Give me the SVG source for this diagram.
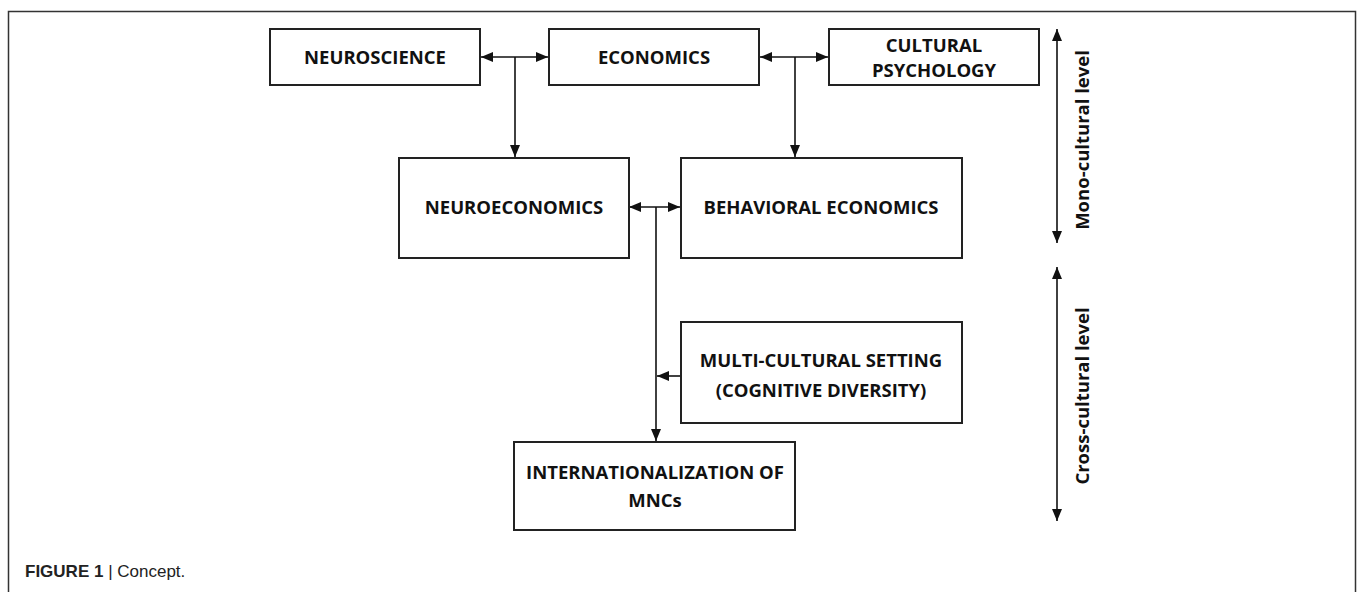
<svg xmlns="http://www.w3.org/2000/svg" width="1357" height="592" viewBox="0 0 1357 592">
<style>
.box{fill:#fff;stroke:#222;stroke-width:2}
.lbl{font-family:"Open Sans","Noto Sans",sans-serif;font-weight:bold;font-size:18.5px;fill:#111;text-anchor:middle}
.side{font-family:"Open Sans","Noto Sans",sans-serif;font-weight:bold;font-size:18.5px;fill:#111;text-anchor:middle}
.con{fill:none;stroke:#111;stroke-width:1.6}
.frame{fill:none;stroke:#333;stroke-width:1.5}
.cap{font-family:"Liberation Sans",Arial,sans-serif;font-size:17px;fill:#222}
</style>
<defs>
<marker id="ah" markerUnits="userSpaceOnUse" viewBox="0 0 12 10" refX="12" refY="5" markerWidth="12" markerHeight="10" orient="auto-start-reverse">
<path d="M0,0 L12,5 L0,10 z" fill="#111"/>
</marker>
</defs>
<rect class="frame" x="8.5" y="11.5" width="1347" height="600"/>
<g id="connectors">
<line class="con" x1="481" y1="57" x2="548" y2="57" marker-start="url(#ah)" marker-end="url(#ah)"/>
<line class="con" x1="515" y1="57" x2="515" y2="157" marker-end="url(#ah)"/>
<line class="con" x1="760" y1="57" x2="828" y2="57" marker-start="url(#ah)" marker-end="url(#ah)"/>
<line class="con" x1="795" y1="57" x2="795" y2="157" marker-end="url(#ah)"/>
<line class="con" x1="629" y1="207" x2="680" y2="207" marker-start="url(#ah)" marker-end="url(#ah)"/>
<line class="con" x1="656" y1="207" x2="656" y2="441" marker-end="url(#ah)"/>
<line class="con" x1="680" y1="376" x2="657" y2="376" marker-end="url(#ah)"/>
<line class="con" x1="1057" y1="29" x2="1057" y2="243" marker-start="url(#ah)" marker-end="url(#ah)"/>
<line class="con" x1="1057" y1="267" x2="1057" y2="521" marker-start="url(#ah)" marker-end="url(#ah)"/>
</g>
<g id="neuroscience">
<rect class="box" x="270" y="29" width="210" height="56"/>
<text class="lbl" x="375" y="64">NEUROSCIENCE</text>
</g>
<g id="economics">
<rect class="box" x="549" y="29" width="210" height="56"/>
<text class="lbl" x="654" y="64">ECONOMICS</text>
</g>
<g id="cultural-psychology">
<rect class="box" x="829" y="29" width="210" height="56"/>
<text class="lbl" x="934" y="52">CULTURAL</text>
<text class="lbl" x="934" y="77">PSYCHOLOGY</text>
</g>
<g id="neuroeconomics">
<rect class="box" x="399" y="158" width="230" height="100"/>
<text class="lbl" x="514" y="214">NEUROECONOMICS</text>
</g>
<g id="behavioral-economics">
<rect class="box" x="681" y="158" width="281" height="100"/>
<text class="lbl" x="821" y="214">BEHAVIORAL ECONOMICS</text>
</g>
<g id="multi-cultural">
<rect class="box" x="681" y="322" width="281" height="101"/>
<text class="lbl" x="821" y="367">MULTI-CULTURAL SETTING</text>
<text class="lbl" x="821" y="397">(COGNITIVE DIVERSITY)</text>
</g>
<g id="internationalization">
<rect class="box" x="514" y="442" width="281" height="88"/>
<text class="lbl" x="655" y="479">INTERNATIONALIZATION OF</text>
<text class="lbl" x="655" y="507">MNCs</text>
</g>
<g id="mono-cultural">
<text class="side" transform="translate(1089,140) rotate(-90)">Mono-cultural level</text>
</g>
<g id="cross-cultural">
<text class="side" transform="translate(1089,396) rotate(-90)">Cross-cultural level</text>
</g>
<text class="cap" x="25" y="577"><tspan font-weight="bold">FIGURE 1</tspan> | Concept.</text>
</svg>
